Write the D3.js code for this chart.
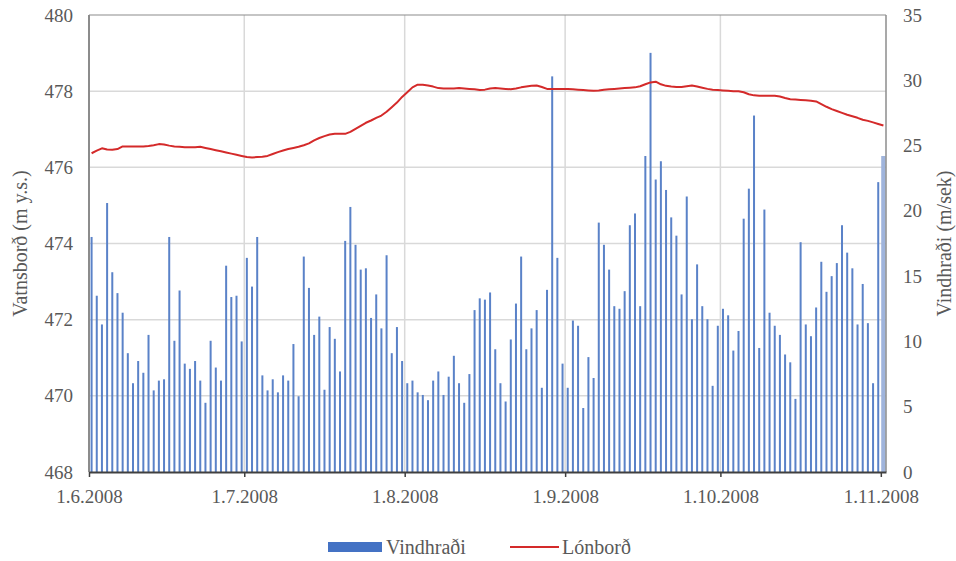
<!DOCTYPE html>
<html>
<head>
<meta charset="utf-8">
<script src="https://cdn.jsdelivr.net/npm/d3@7"></script>
<style>
  body { margin: 0; background: #ffffff; }
  svg text { font-family: "Liberation Serif", "Times New Roman", Tinos, "DejaVu Serif", "Noto Serif", serif; fill: #595959; }
</style>
</head>
<body>
<svg id="chart" width="956" height="561"></svg>
<script>
// ---- data ----
const startDate = "2008-06-01";
const endDate = "2008-11-01";
const tickDates = ["2008-06-01", "2008-07-01", "2008-08-01", "2008-09-01", "2008-10-01", "2008-11-01"];
const tickLabels = ["1.6.2008", "1.7.2008", "1.8.2008", "1.9.2008", "1.10.2008", "1.11.2008"];
const leftTicks = [468, 470, 472, 474, 476, 478, 480];
const rightTicks = [0, 5, 10, 15, 20, 25, 30, 35];
// daily wind speed (m/sek), 1.6.2008 .. 1.11.2008
const windSpeed = [
  18.0, 13.5, 11.3, 20.6, 15.3, 13.7, 12.2, 9.1, 6.8, 8.5, 7.6, 10.5, 6.25, 7.0, 7.1, 18.0, 10.05, 13.9, 8.3, 7.9, 8.5, 7.0, 5.3, 10.05, 8.0, 7.0, 15.8, 13.4, 13.5, 10.0,
  16.4, 14.2, 18.0, 7.4, 6.25, 7.1, 6.1, 7.4, 7.0, 9.8, 5.8, 16.5, 14.1, 10.5, 11.9, 6.3, 11.1, 10.2, 7.7, 17.7, 20.3, 17.4, 15.5, 15.6, 11.8, 13.6, 11.0, 16.6, 9.1, 11.1, 8.5,
  6.8, 7.0, 6.1, 5.9, 5.5, 7.0, 7.7, 5.9, 7.3, 8.9, 6.8, 5.3, 7.5, 12.4, 13.3, 13.2, 13.75, 9.4, 6.8, 5.4, 10.15, 12.9, 16.5, 9.4, 11.0, 12.4, 6.45, 13.95, 30.3, 16.4, 8.3,
  6.45, 11.6, 11.2, 4.9, 8.8, 7.2, 19.1, 17.4, 15.5, 12.7, 12.5, 13.85, 18.9, 19.8, 12.7, 24.2, 32.1, 22.4, 23.8, 21.6, 19.5, 18.1, 13.6, 21.1, 11.7, 15.9, 12.7, 11.7, 6.6, 11.2,
  12.5, 12.0, 9.3, 10.8, 19.4, 21.7, 27.3, 9.5, 20.1, 12.2, 11.2, 10.5, 9.0, 8.4, 5.6, 17.6, 11.3, 10.4, 12.6, 16.1, 13.8, 15.0, 16.0, 18.9, 16.8, 15.6, 11.3, 14.4, 11.4, 6.8,
  22.2, 24.2
];
// daily reservoir level (m y.s.), 1.6.2008 .. 1.11.2008
const waterLevel = [
  476.37, 476.44, 476.50, 476.47, 476.46, 476.48, 476.55, 476.55, 476.55, 476.55, 476.55, 476.56, 476.58, 476.61, 476.60, 476.57, 476.55, 476.54, 476.53, 476.53, 476.53, 476.54, 476.51, 476.48, 476.45, 476.42, 476.39, 476.36, 476.33, 476.30,
  476.27, 476.26, 476.27, 476.28, 476.30, 476.35, 476.40, 476.44, 476.48, 476.51, 476.54, 476.58, 476.63, 476.71, 476.77, 476.82, 476.86, 476.88, 476.88, 476.88, 476.93, 477.01, 477.09, 477.17, 477.23, 477.30, 477.36, 477.46, 477.58, 477.70, 477.85,
  477.97, 478.10, 478.17, 478.17, 478.15, 478.12, 478.08, 478.07, 478.07, 478.07, 478.08, 478.07, 478.06, 478.05, 478.03, 478.04, 478.07, 478.08, 478.07, 478.06, 478.05, 478.07, 478.10, 478.12, 478.14, 478.15, 478.11, 478.06, 478.06, 478.06, 478.06,
  478.06, 478.05, 478.04, 478.03, 478.02, 478.01, 478.02, 478.04, 478.05, 478.06, 478.07, 478.08, 478.09, 478.10, 478.13, 478.18, 478.23, 478.25, 478.18, 478.14, 478.12, 478.11, 478.11, 478.13, 478.15, 478.12, 478.09, 478.06, 478.04, 478.03,
  478.02, 478.01, 478.00, 478.00, 477.97, 477.92, 477.89, 477.88, 477.88, 477.88, 477.88, 477.86, 477.82, 477.79, 477.78, 477.77, 477.76, 477.75, 477.73, 477.66, 477.59, 477.53, 477.48, 477.43, 477.38, 477.34, 477.30, 477.25, 477.22, 477.18,
  477.14, 477.10
];
const seriesNames = ["Vindhraði", "Lónborð"];
const axisTitles = ["Vatnsborð (m y.s.)", "Vindhraði (m/sek)"];

// ---- layout ----
const FONT = "'Liberation Serif', 'Times New Roman', Tinos, 'DejaVu Serif', 'Noto Serif', serif";
const svg = d3.select("#chart");
const L = 89, R = 886, T = 15, B = 472;
const parse = d3.timeParse("%Y-%m-%d");
const d0 = parse(startDate);
const dEnd = d3.timeDay.offset(parse(endDate), 1);
const dates = windSpeed.map((_, i) => d3.timeDay.offset(d0, i));

const x = d3.scaleTime().domain([d0, dEnd]).range([L, R]);
const yL = d3.scaleLinear().domain([468, 480]).range([B, T]);
const yR = d3.scaleLinear().domain([0, 35]).range([B, T]);
const halfDay = (x(d3.timeDay.offset(d0, 1)) - x(d0)) / 2;

// gridlines
const g = svg.append("g");
g.selectAll(".hg").data(leftTicks.slice(1, -1)).enter().append("line")
  .attr("x1", L).attr("x2", R).attr("y1", d => yL(d)).attr("y2", d => yL(d))
  .attr("stroke", "#d9d9d9").attr("stroke-width", 1.5);
g.selectAll(".vg").data(tickDates.slice(1, -1).map(parse)).enter().append("line")
  .attr("x1", d => x(d)).attr("x2", d => x(d)).attr("y1", T).attr("y2", B)
  .attr("stroke", "#d9d9d9").attr("stroke-width", 1.5);

// bars
svg.append("g").selectAll("rect").data(windSpeed).enter().append("rect")
  .attr("x", (d, i) => x(dates[i]) + halfDay - (i === windSpeed.length - 1 ? 2.2 : 1))
  .attr("width", (d, i) => i === windSpeed.length - 1 ? 4.4 : 2)
  .attr("y", d => yR(d))
  .attr("height", d => B - yR(d))
  .attr("fill", (d, i) => i === windSpeed.length - 1 ? "#9fb4dc" : "#5a82c8");

// line
const line = d3.line().x((d, i) => x(dates[i]) + halfDay).y(d => yL(d)).curve(d3.curveLinear);
svg.append("path").datum(waterLevel).attr("d", line)
  .attr("fill", "none").attr("stroke", "#d42a2a").attr("stroke-width", 2).attr("stroke-linejoin", "round");

// frame
svg.append("line").attr("x1", L).attr("x2", R).attr("y1", T).attr("y2", T).attr("stroke", "#8c8c8c").attr("stroke-width", 1.2);
svg.append("line").attr("x1", L).attr("x2", L).attr("y1", T).attr("y2", B).attr("stroke", "#8c8c8c").attr("stroke-width", 2);
svg.append("line").attr("x1", R).attr("x2", R).attr("y1", T).attr("y2", B).attr("stroke", "#8c8c8c").attr("stroke-width", 1.5);

// bottom axis
const xAxis = d3.axisBottom(x).tickValues(tickDates.map(parse)).tickFormat((d, i) => tickLabels[i]).tickSize(5).tickSizeOuter(0);
const gx = svg.append("g").attr("transform", `translate(0,${B})`).call(xAxis);
gx.attr("font-family", FONT);
gx.select(".domain").attr("stroke", "#404040").attr("stroke-width", 2);
gx.selectAll(".tick line").attr("stroke", "#404040").attr("stroke-width", 1.5);
gx.selectAll(".tick text").attr("font-size", 19).attr("dy", "1.2em").attr("fill", "#595959")
  .style("font-family", FONT);

// left axis
const yAxisL = d3.axisLeft(yL).tickValues(leftTicks).tickFormat(d3.format("d")).tickSize(0).tickPadding(16);
const gyl = svg.append("g").attr("transform", `translate(${L},0)`).call(yAxisL);
gyl.attr("font-family", FONT);
gyl.select(".domain").remove();
gyl.selectAll(".tick text").attr("font-size", 19).attr("fill", "#595959").style("font-family", FONT);

// right axis
const yAxisR = d3.axisRight(yR).tickValues(rightTicks).tickFormat(d3.format("d")).tickSize(0).tickPadding(17);
const gyr = svg.append("g").attr("transform", `translate(${R},0)`).call(yAxisR);
gyr.attr("font-family", FONT);
gyr.select(".domain").remove();
gyr.selectAll(".tick text").attr("font-size", 19).attr("fill", "#595959").style("font-family", FONT);

// axis titles
svg.append("text").attr("transform", `translate(27,${(T + B) / 2}) rotate(-90)`)
  .attr("text-anchor", "middle").attr("font-size", 20).style("font-family", FONT).text(axisTitles[0]);
svg.append("text").attr("transform", `translate(951,${(T + B) / 2}) rotate(-90)`)
  .attr("text-anchor", "middle").attr("font-size", 20).style("font-family", FONT).text(axisTitles[1]);

// legend
const lg = svg.append("g");
lg.append("rect").attr("x", 328).attr("y", 542).attr("width", 54).attr("height", 10).attr("fill", "#4472c4");
lg.append("text").attr("x", 386).attr("y", 554).attr("font-size", 20).style("font-family", FONT).text(seriesNames[0]);
lg.append("line").attr("x1", 510).attr("x2", 559).attr("y1", 547).attr("y2", 547).attr("stroke", "#d42a2a").attr("stroke-width", 2);
lg.append("text").attr("x", 562).attr("y", 554).attr("font-size", 20).style("font-family", FONT).text(seriesNames[1]);
</script>
</body>
</html>
